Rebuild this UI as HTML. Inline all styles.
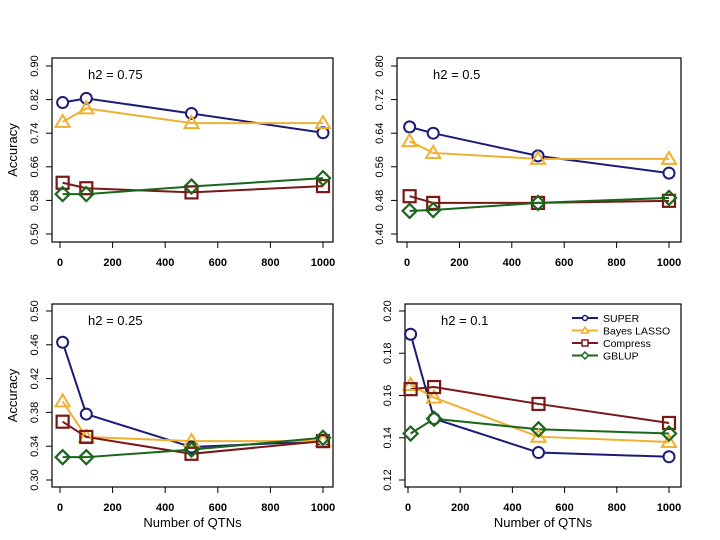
<!DOCTYPE html>
<html><head><meta charset="utf-8"><style>
body{margin:0;background:#fff;}
svg{display:block;font-family:"Liberation Sans",sans-serif;}
</style></head><body>
<svg id="chart" width="720" height="540" viewBox="0 0 720 540"></svg>
<script>
const xValues = [10, 100, 500, 1000];
const xTicks = [0, 200, 400, 600, 800, 1000];
const seriesNames = ["SUPER", "Bayes LASSO", "Compress", "GBLUP"];
const p1Ticks = [0.50, 0.58, 0.66, 0.74, 0.82, 0.90];
const p1Super = [0.813, 0.823, 0.787, 0.741];
const p1Bayes = [0.767, 0.799, 0.764, 0.764];
const p1Compress = [0.622, 0.609, 0.599, 0.614];
const p1Gblup = [0.595, 0.595, 0.613, 0.633];
const p2Ticks = [0.40, 0.48, 0.56, 0.64, 0.72, 0.80];
const p2Super = [0.655, 0.640, 0.586, 0.545];
const p2Bayes = [0.621, 0.593, 0.579, 0.579];
const p2Compress = [0.490, 0.474, 0.474, 0.479];
const p2Gblup = [0.455, 0.457, 0.474, 0.486];
const p3Ticks = [0.30, 0.34, 0.38, 0.42, 0.46, 0.50];
const p3Super = [0.463, 0.378, 0.339, 0.346];
const p3Bayes = [0.393, 0.351, 0.346, 0.346];
const p3Compress = [0.369, 0.351, 0.331, 0.346];
const p3Gblup = [0.327, 0.327, 0.336, 0.350];
const p4Ticks = [0.12, 0.14, 0.16, 0.18, 0.20];
const p4Super = [0.189, 0.149, 0.133, 0.131];
const p4Bayes = [0.165, 0.159, 0.1405, 0.138];
const p4Compress = [0.163, 0.164, 0.156, 0.147];
const p4Gblup = [0.142, 0.149, 0.144, 0.142];

const colors = ["#1c1c78", "#f0b030", "#7a1818", "#1a661a"];
const shapes = ["circle", "triangle", "square", "diamond"];
const NS = "http://www.w3.org/2000/svg";
const svg = document.getElementById("chart");
function mk(tag, attrs, parent) {
  const e = document.createElementNS(NS, tag);
  for (const k in attrs) e.setAttribute(k, attrs[k]);
  (parent || svg).appendChild(e);
  return e;
}
function marker(g, shape, x, y, c) {
  let e;
  if (shape === "circle") e = mk("circle", {cx:x, cy:y, r:5.5, fill:"#fff", stroke:c, "stroke-width":2}, g);
  else if (shape === "triangle") e = mk("polygon", {points:`${x},${y-7} ${x-7},${y+5} ${x+7},${y+5}`, fill:"none", stroke:c, "stroke-width":2}, g);
  else if (shape === "square") e = mk("rect", {x:x-6, y:y-6, width:12, height:12, fill:"none", stroke:c, "stroke-width":2.2}, g);
  else e = mk("polygon", {points:`${x},${y-7} ${x+7},${y} ${x},${y+7} ${x-7},${y}`, fill:"none", stroke:c, "stroke-width":2.2}, g);
  
  
}
function panel(id, box, x0px, x1px, ymin, ymax, yminPx, ymaxPx, ticks, series, label, showYTitle, showXTitle, legend) {
  const g = mk("g", {});
  
  
  const sx = v => x0px + (v / 1000) * (x1px - x0px);
  const sy = v => yminPx - (v - ymin) / (ymax - ymin) * (yminPx - ymaxPx);
  const frame = mk("rect", {x:box[0], y:box[1], width:box[2]-box[0], height:box[3]-box[1], fill:"none", stroke:"#000", "stroke-width":1.2}, g);
  
  
  // y axis ticks
  ticks.forEach(t => {
    const y = sy(t);
    const tl = mk("line", {x1:box[0]-6, x2:box[0], y1:y, y2:y, stroke:"#000"}, g);
    
    
    const tx = mk("text", {x:box[0]-14, y:y, "font-size":11, "text-anchor":"middle", transform:`rotate(-90 ${box[0]-14} ${y})`}, g);
    tx.textContent = t.toFixed(2);
    
    
  });
  xTicks.forEach(t => {
    const x = sx(t);
    const tl = mk("line", {x1:x, x2:x, y1:box[3], y2:box[3]+6, stroke:"#000"}, g);
    
    
    const tx = mk("text", {x:x, y:box[3]+24, "font-size":11, "font-weight":"bold", "text-anchor":"middle"}, g);
    tx.textContent = t;
    
    
  });
  const lt = mk("text", {x:box[0]+36, y:box[1]+21, "font-size":13}, g);
  lt.textContent = label;
  
  
  if (showYTitle) {
    const cy = (box[1]+box[3])/2;
    const yt = mk("text", {x:17, y:cy, "font-size":13, "text-anchor":"middle", transform:`rotate(-90 17 ${cy})`}, g);
    yt.textContent = "Accuracy";
    
    
  }
  if (showXTitle) {
    const xt = mk("text", {x:(box[0]+box[2])/2, y:527, "font-size":13, "text-anchor":"middle"}, g);
    xt.textContent = "Number of QTNs";
    
    
  }
  series.forEach((vals, i) => {
    const pts = vals.map((v, j) => `${sx(xValues[j])},${sy(v)}`).join(" ");
    const pl = mk("polyline", {points:pts, fill:"none", stroke:colors[i], "stroke-width":2}, g);
    
    
  });
  series.forEach((vals, i) => {
    vals.forEach((v, j) => marker(g, shapes[i], sx(xValues[j]), sy(v), colors[i]));
  });
  if (legend) {
    seriesNames.forEach((n, i) => {
      const ly = 318 + i * 12.5;
      const lg = mk("g", {}, g);
      
      
      mk("line", {x1:572, x2:598, y1:ly, y2:ly, stroke:colors[i], "stroke-width":2}, lg);
      const s = shapes[i];
      if (s === "circle") mk("circle", {cx:585, cy:ly, r:2.5, fill:"#fff", stroke:colors[i], "stroke-width":1.5}, lg);
      else if (s === "triangle") mk("polygon", {points:`585,${ly-3.5} 581.5,${ly+2.5} 588.5,${ly+2.5}`, fill:"#fff", stroke:colors[i], "stroke-width":1.5}, lg);
      else if (s === "square") mk("rect", {x:582, y:ly-3, width:6, height:6, fill:"#fff", stroke:colors[i], "stroke-width":1.5}, lg);
      else mk("polygon", {points:`585,${ly-3.5} 588.5,${ly} 585,${ly+3.5} 581.5,${ly}`, fill:"#fff", stroke:colors[i], "stroke-width":1.5}, lg);
      const t = mk("text", {x:603, y:ly+4, "font-size":10.5}, lg);
      t.textContent = n;
    });
  }
}
panel("panel-h2-075", [52,58,333,242], 60, 323, 0.50, 0.90, 234, 66, p1Ticks, [p1Super,p1Bayes,p1Compress,p1Gblup], "h2 = 0.75", true, false, false);
panel("panel-h2-05", [397,58,681,242], 407, 669, 0.40, 0.80, 234, 66, p2Ticks, [p2Super,p2Bayes,p2Compress,p2Gblup], "h2 = 0.5", false, false, false);
panel("panel-h2-025", [52,304,333,487], 60, 323, 0.30, 0.50, 480, 311, p3Ticks, [p3Super,p3Bayes,p3Compress,p3Gblup], "h2 = 0.25", true, true, false);
panel("panel-h2-01", [405,304,681,487], 408, 669, 0.12, 0.20, 480, 311, p4Ticks, [p4Super,p4Bayes,p4Compress,p4Gblup], "h2 = 0.1", false, true, true);
</script>
</body></html>
